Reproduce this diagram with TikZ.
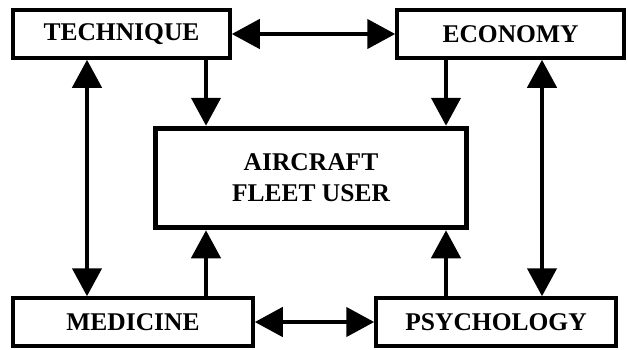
\documentclass[tikz,border=0pt]{standalone}
\usepackage{fontspec}
\setmainfont{Liberation Serif}
\usetikzlibrary{arrows.meta}
\begin{document}
\begin{tikzpicture}[x=1pt,y=-1pt,
  boxnode/.style={draw, line width=3.5pt, fill=white, inner sep=0pt,
    font=\fontsize{25.5}{30}\selectfont\bfseries, minimum height=48pt},
  arr/.style={line width=4.5pt, -{Triangle[length=28pt,width=29pt]}},
  darr/.style={line width=4.5pt, {Triangle[length=28pt,width=29pt]}-{Triangle[length=28pt,width=29pt]}}]
\useasboundingbox (0,0) rectangle (628,349);
\node[boxnode, minimum width=217pt] (tech) at (121.5,34) {TECHNIQUE};
\node[boxnode, minimum width=227pt] (econ) at (510.5,34) {ECONOMY};
\node[boxnode, minimum width=240pt] (med) at (133,322) {MEDICINE};
\node[boxnode, minimum width=240pt] (psy) at (496,322) {PSYCHOLOGY};
\node[boxnode, line width=5.5pt, minimum width=311pt, minimum height=99pt, align=center,
  font=\fontsize{25.5}{31}\selectfont\bfseries] (user) at (311,178) {AIRCRAFT\\FLEET USER};
\coordinate (cA) at (87,0);
\coordinate (cB) at (206,0);
\coordinate (cC) at (446,0);
\coordinate (cD) at (542,0);
\draw[darr] (tech.east) -- (econ.west);
\draw[darr] (med.east) -- (psy.west);
\draw[darr] (tech.south -| cA) -- (med.north -| cA);
\draw[darr] (econ.south -| cD) -- (psy.north -| cD);
\draw[arr] (tech.south -| cB) -- (user.north -| cB);
\draw[arr] (econ.south -| cC) -- (user.north -| cC);
\draw[arr] (med.north -| cB) -- (user.south -| cB);
\draw[arr] (psy.north -| cC) -- (user.south -| cC);
\end{tikzpicture}
\end{document}
